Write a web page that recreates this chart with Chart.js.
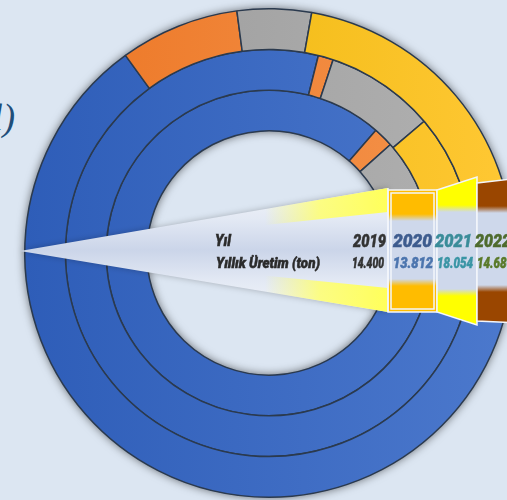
<!DOCTYPE html>
<html lang="tr">
<head>
<meta charset="utf-8">
<script src="https://cdn.jsdelivr.net/npm/chart.js@4.4.1/dist/chart.umd.min.js"></script>
<style>
  html, body { margin:0; padding:0; width:507px; height:500px; overflow:hidden; background:#DCE6F2; }
  #wrap { position:absolute; left:0; top:0; width:540px; height:500px; }
  .t { position:absolute; white-space:nowrap; font-family:Roboto,"Liberation Sans",sans-serif; font-weight:900; font-style:italic; line-height:1; transform-origin:0 0; -webkit-text-stroke:0.5px currentColor; }
  #title { position:absolute; left:-298px; width:313px; top:99px; text-align:right; font-family:"Liberation Serif","DejaVu Serif",serif; font-style:italic; font-size:37px; line-height:1; color:#1F4E79; white-space:nowrap; }
</style>
</head>
<body>
<div id="title">Üretim (ton/yıl)</div>
<div id="wrap"><canvas id="c"></canvas></div>
<div id="labels"></div>
<script>
// ---- data ----
const categories = ['Mavi grup', 'Turuncu grup', 'Gri grup', 'Sarı grup'];
const ringNames = ['Dış halka', 'Orta halka', 'İç halka'];
const outerRing  = [65.0, 7.9, 4.9, 22.2];
const middleRing = [78.9, 1.2, 8.7, 11.2];
const innerRing  = [86.4, 2.0, 11.6, 0];
const years = ['2019', '2020', '2021', '2022'];
const production = [14400, 13812, 18054, 14680];
const headerYear = 'Yıl';
const headerProd = 'Yıllık Üretim (ton)';

// ---- styles / layout ----
const gradStops = [
  ['#2E5DB8', '#4C79CD'],
  ['#EC7523', '#F5964F'],
  ['#999999', '#B2B2B2'],
  ['#E9B300', '#FFC834']
];
const yearColors = ['#333333', '#3E5C8E', '#3A8C99', '#4E6B2E'];
const valueColors = ['#333333', '#4C75AE', '#3A95A5', '#5A7A2A'];
const yearBox = [[353, 33], [393, 39], [435, 37], [475, 36]];
const valueBox = [[352, 32], [393, 40], [437, 36], [477, 36]];

function fmt(n) { return String(n).replace(/\B(?=(\d{3})+(?!\d))/g, '.'); }

function segColor(ctx) {
  const chart = ctx.chart;
  const area = chart.chartArea;
  const s = gradStops[ctx.dataIndex];
  if (!area) return s[0];
  const g = chart.ctx.createLinearGradient(area.left, 0, area.right, 0);
  g.addColorStop(0, s[0]);
  g.addColorStop(1, s[1]);
  return g;
}

const ringShadow = {
  id: 'ringShadow',
  beforeDatasetsDraw(chart) {
    const m0 = chart.getDatasetMeta(0).data[0];
    const m2 = chart.getDatasetMeta(2).data[0];
    if (!m0 || !m2) return;
    const c = chart.ctx;
    c.save();
    c.beginPath();
    c.arc(m0.x, m0.y, m0.outerRadius, 0, Math.PI * 2);
    c.arc(m0.x, m0.y, m2.innerRadius, 0, Math.PI * 2, true);
    c.closePath();
    c.shadowColor = 'rgba(0,0,0,0.6)';
    c.shadowBlur = 10;
    c.fillStyle = '#3D6AC4';
    c.fill();
    c.restore();
  }
};

function band(c, y0, y1, col, fadeTop, fadeBot, bandCol) {
  const g = c.createLinearGradient(0, y0, 0, y1);
  const h = y1 - y0;
  const f = v => Math.min(1, Math.max(0, (v - y0) / h));
  g.addColorStop(0, col);
  g.addColorStop(f(fadeTop), col);
  g.addColorStop(f(fadeTop + 7), bandCol);
  g.addColorStop(f(fadeBot - 7), bandCol);
  g.addColorStop(f(fadeBot), col);
  g.addColorStop(1, col);
  return g;
}

const ribbon = {
  id: 'ribbon',
  afterDraw(chart) {
    const c = chart.ctx;
    c.save();
    c.shadowColor = 'rgba(0,0,0,0.25)';
    c.shadowBlur = 6;
    c.beginPath();
    c.moveTo(20, 251); c.lineTo(388, 188); c.lineTo(388, 312); c.closePath();
    let g = c.createLinearGradient(0, 188, 0, 312);
    g.addColorStop(0, '#F2F5FA');
    g.addColorStop(0.25, '#E3E9F4');
    g.addColorStop(0.5, '#CBD5E9');
    g.addColorStop(0.75, '#E3E9F4');
    g.addColorStop(1, '#F2F5FA');
    c.fillStyle = g; c.fill();
    c.shadowColor = 'transparent';
    const wing = (pts) => {
      c.beginPath(); c.moveTo(pts[0][0], pts[0][1]);
      for (let i = 1; i < pts.length; i++) c.lineTo(pts[i][0], pts[i][1]);
      c.closePath();
      const wg = c.createLinearGradient(265, 0, 388, 0);
      wg.addColorStop(0, 'rgba(255,255,110,0)');
      wg.addColorStop(0.45, 'rgba(255,255,110,0.85)');
      wg.addColorStop(1, 'rgba(255,255,90,1)');
      c.fillStyle = wg; c.fill();
    };
    wing([[20, 251], [388, 188], [388, 212]]);
    wing([[20, 251], [388, 312], [388, 288]]);
    const bandCol = '#CED8EB';
    c.beginPath(); c.moveTo(388, 190); c.lineTo(437, 190); c.lineTo(437, 312); c.lineTo(388, 312); c.closePath();
    c.fillStyle = band(c, 190, 312, '#FFBC00', 214, 286, bandCol); c.fill();
    c.strokeStyle = '#F3F6FB'; c.lineWidth = 1.5; c.stroke();
    c.strokeRect(391, 193, 43, 116);
    c.beginPath(); c.moveTo(437, 190); c.lineTo(477, 177); c.lineTo(477, 325); c.lineTo(437, 312); c.closePath();
    c.fillStyle = band(c, 177, 325, '#FFFF00', 205, 296, bandCol); c.fill();
    c.stroke();
    c.beginPath(); c.moveTo(477, 183); c.lineTo(520, 178); c.lineTo(520, 323); c.lineTo(477, 321); c.closePath();
    c.fillStyle = band(c, 180, 323, '#9A4600', 206, 292, bandCol); c.fill();
    c.stroke();
    c.beginPath(); c.moveTo(388, 188); c.lineTo(388, 312); c.stroke();
    c.restore();
  }
};

new Chart(document.getElementById('c'), {
  type: 'doughnut',
  data: {
    labels: categories,
    datasets: [
      { label: ringNames[0], data: outerRing },
      { label: ringNames[1], data: middleRing },
      { label: ringNames[2], data: innerRing }
    ]
  },
  options: {
    responsive: true,
    maintainAspectRatio: false,
    animation: false,
    rotation: 90,
    cutout: '50%',
    layout: { padding: { left: 24, right: 26, top: 8, bottom: 2 } },
    elements: { arc: { backgroundColor: segColor, borderColor: '#2B3A4E', borderWidth: 1.5 } },
    plugins: { legend: { display: false }, tooltip: { enabled: false } }
  },
  plugins: [ringShadow, ribbon]
});

const L = document.getElementById('labels');
function addText(txt, x, y, size, color, w) {
  const d = document.createElement('div');
  d.className = 't';
  d.textContent = txt;
  d.style.left = x + 'px'; d.style.top = y + 'px';
  d.style.fontSize = size + 'px'; d.style.color = color;
  L.appendChild(d);
  const ow = d.getBoundingClientRect().width;
  if (w && ow > 0) d.style.transform = 'scaleX(' + (w / ow).toFixed(3) + ')';
}
addText(headerYear, 215, 232.5, 16.5, '#2B2B2B', 16);
addText(headerProd, 216, 256.3, 14, '#2B2B2B', 104);
years.forEach((y, i) => addText(y, yearBox[i][0], 231.5, 18.5, yearColors[i], yearBox[i][1]));
production.forEach((v, i) => addText(fmt(v), valueBox[i][0], 255.5, 14, valueColors[i], valueBox[i][1]));
</script>
</body>
</html>
